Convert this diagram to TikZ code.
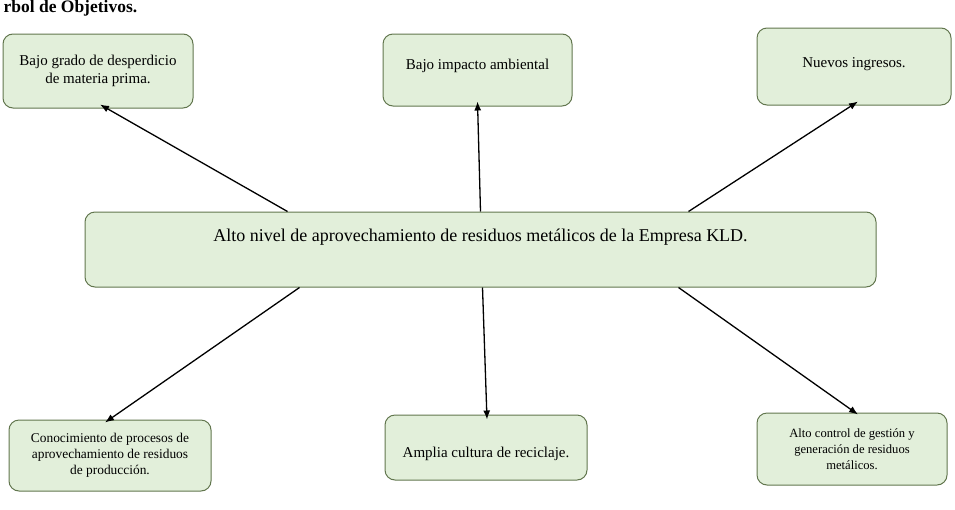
\documentclass[tikz,border=0pt]{standalone}
\usepackage{fontspec}
\setmainfont{Liberation Serif}
\usetikzlibrary{arrows.meta,calc}
\definecolor{boxfill}{HTML}{E2EFDA}
\definecolor{boxline}{HTML}{62764E}

\begin{document}
\begin{tikzpicture}[
  x=1pt,y=-1pt,>={Latex[length=9pt,width=7pt]},
  box/.style={rounded corners=10pt,draw=boxline,fill=boxfill,line width=1pt,align=center,inner sep=0pt},
  fin/.style={box,font=\fontsize{15}{18}\selectfont},
  prop/.style={box,font=\fontsize{18}{21}\selectfont},
  medio/.style={box,font=\fontsize{13.4}{16}\selectfont},
  arr/.style={->,line width=1.3pt}]
\useasboundingbox (0,0) rectangle (955,509);
\node[anchor=base west,font=\fontsize{17.5}{20}\selectfont\bfseries] (title) at (0,12.5) {rbol de Objetivos.};
% fines
\node[fin,minimum width=190pt,minimum height=74pt] (obj1) at (98,71) {Bajo grado de desperdicio\\de materia prima.};
\node[fin,minimum width=189pt,minimum height=72pt,text height=10pt,text depth=12pt] (obj2) at (477.5,70) {Bajo impacto ambiental};
\node[fin,minimum width=194pt,minimum height=77pt,text height=10pt,text depth=9pt] (obj3) at (854,66.5) {Nuevos ingresos.};
% objetivo central
\node[prop,minimum width=791pt,minimum height=75pt,text height=12pt,text depth=29pt] (cen) at (480.5,249.5) {Alto nivel de aprovechamiento de residuos metálicos de la Empresa KLD.};
% medios
\node[medio,minimum width=202pt,minimum height=71pt] (sol1) at (110,455.5) {Conocimiento de procesos de\\aprovechamiento de residuos\\de producción.};
\node[medio,minimum width=202pt,minimum height=65pt,font=\fontsize{15}{18}\selectfont,text height=19pt,text depth=0pt] (sol2) at (486,447.5) {Amplia cultura de reciclaje.};
\node[medio,minimum width=190pt,minimum height=72pt,font=\fontsize{12.6}{16}\selectfont] (sol3) at (852,449) {Alto control de gestión y\\generación de residuos\\metálicos.};
\draw[arr] ([xshift=203pt]cen.north west) -- ([xshift=2pt,yshift=4pt]obj1.south);
\draw[arr] (cen.north) -- ([yshift=5pt]obj2.south);
\draw[arr] ([xshift=-188pt]cen.north east) -- ([xshift=4pt,yshift=4pt]obj3.south);
\draw[arr] ([xshift=215pt]cen.south west) -- ([xshift=-5pt,yshift=-3pt]sol1.north);
\draw[arr] ([xshift=2pt]cen.south) -- ([xshift=1pt,yshift=-5pt]sol2.north);
\draw[arr] ([xshift=-198pt]cen.south east) -- ([xshift=6pt,yshift=-2pt]sol3.north);
\end{tikzpicture}
\end{document}
